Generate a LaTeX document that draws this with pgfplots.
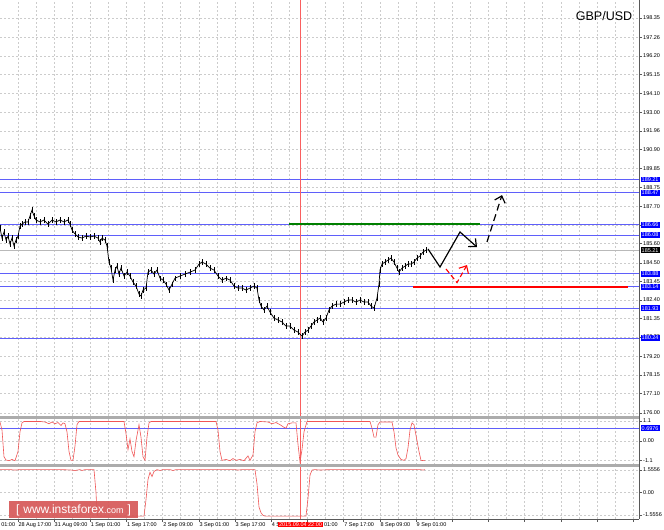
\documentclass[border=0pt]{standalone}
\usepackage{pgfplots}
\pgfplotsset{compat=1.18}
\usepackage{fontspec}
\setmainfont{Liberation Sans}
\usetikzlibrary{arrows.meta}
\definecolor{lvl}{RGB}{95,95,250}
\definecolor{ind}{RGB}{240,85,85}
\definecolor{vred}{RGB}{250,95,95}
\definecolor{wm}{RGB}{214,88,88}
\definecolor{grn}{RGB}{0,128,0}
\newcommand{\mtf}{\fontsize{5.5}{6}\selectfont}
\pgfplotsset{
 mt/.style={
   scale only axis, width=639pt, xmin=0, xmax=639,
   anchor=south west, clip=false,
   axis line style={draw=none},
   ytick pos=right, yticklabel pos=right,
   tick align=outside, major tick length=3pt, minor tick length=0pt,
   tick style={draw=gray!70!black, line width=0.4pt},
   yticklabel style={font=\mtf, inner xsep=1pt, anchor=west, text=black},
   xmajorgrids, xminorgrids, ymajorgrids,
   major grid style={draw=gray!40, dash pattern=on 2pt off 2pt, line width=0.45pt},
   minor grid style={draw=gray!40, dash pattern=on 2pt off 2pt, line width=0.45pt},
   xtick={17.8,54.0,90.2,126.4,162.6,198.8,235.0,271.2,307.4,343.6,379.8,416.0,452.2,488.4,524.6,560.8,597.0,633.2},
   minor xtick={35.9,72.1,108.3,144.5,180.7,216.9,253.1,289.3,325.5,361.7,397.9,434.1,470.3,506.5,542.7,578.9,615.1},
 },
 noxlab/.style={xticklabels={}, xtick style={draw=none}},
}
\begin{document}
\begin{tikzpicture}[x=1pt,y=1pt]
\useasboundingbox (0pt,0pt) rectangle (664pt,530pt);
\fill[white] (0pt,0pt) rectangle (664pt,530pt);

% ---------------- main price pane ----------------
\begin{axis}[mt, noxlab, at={(0pt,114pt)}, height=416pt, ymin=175.83, ymax=199.37,
  ytick={176.00,177.10,178.15,179.20,180.30,181.35,182.40,183.45,184.50,185.60,186.65,187.70,188.75,189.85,190.90,191.96,193.00,194.10,195.15,196.20,197.26,198.35,199.40},
  yticklabels={176.00,177.10,178.15,179.20,180.30,181.35,182.40,183.45,184.50,185.60,186.65,187.70,188.75,189.85,190.90,191.96,193.00,194.10,195.15,196.20,197.26,198.35,199.40}]
% bid line
\addplot[gray!55, line width=0.5pt] coordinates {(0,185.21) (639,185.21)};
% horizontal levels
\foreach \v in {189.21,188.47,186.66,186.08,183.88,183.14,181.93,180.24}{
  \edef\tmp{\noexpand\addplot[lvl, line width=0.7pt] coordinates {(0,\v) (639,\v)};}\tmp
}
% red vertical line
\addplot[vred, line width=0.7pt] coordinates {(300,175.83) (300,199.37)};
% price bars
\addplot[black, line width=0.7pt, error bars/.cd, y dir=both, y fixed=0.15, error mark=none,
  error bar style={line width=0.6pt}] table {
x y
0 186.47
2 185.90
4 186.24
6 185.79
8 186.01
10 185.56
12 185.90
14 185.45
16 185.79
18 186.01
20 186.58
22 186.69
25 186.81
28 186.81
30 187.15
32 187.48
34 187.15
36 186.92
40 186.81
44 186.92
48 186.69
52 186.92
56 186.81
60 186.92
64 186.81
68 186.92
70 186.69
72 186.35
75 186.13
78 185.96
82 185.90
86 186.01
90 185.96
94 186.01
98 185.90
100 185.67
102 185.90
105 185.79
107 185.45
109 184.54
111 184.20
113 183.52
115 184.09
117 184.31
119 183.86
121 184.20
124 183.75
127 183.97
130 183.75
133 183.41
136 183.18
139 182.73
141 182.62
143 182.96
146 183.07
148 183.97
151 184.09
154 183.86
157 184.09
160 183.63
163 183.52
166 183.29
169 182.96
172 183.29
175 183.63
180 183.75
185 183.86
190 183.97
195 184.09
199 184.43
202 184.54
206 184.43
210 184.20
214 184.09
218 183.75
222 183.52
226 183.63
230 183.52
234 183.18
238 183.07
242 183.07
246 182.96
250 183.07
254 183.18
257 183.07
259 182.39
261 182.05
264 181.83
267 182.05
270 181.71
274 181.37
278 181.26
282 181.15
286 180.92
290 180.92
294 180.69
298 180.58
302 180.35
305 180.58
308 180.69
311 180.92
314 181.15
317 181.26
320 181.37
323 181.15
326 181.37
329 181.83
332 182.05
336 182.16
340 182.16
344 182.28
348 182.39
352 182.39
356 182.28
360 182.39
364 182.28
368 182.28
371 182.05
374 181.94
377 182.50
379 183.30
380 184.09
382 184.43
385 184.54
388 184.65
391 184.77
394 184.54
397 184.20
399 183.97
402 184.20
405 184.31
408 184.43
411 184.43
414 184.54
417 184.77
420 184.88
423 185.11
426 185.22
};
% drawn lines
\addplot[grn, line width=1.8pt] coordinates {(289,186.68) (480,186.68)};
\addplot[red, line width=1.6pt] coordinates {(413,183.14) (628,183.14)};
% forecast arrows
\addplot[black, line width=1.2pt, -{Straight Barb[length=6pt,width=11pt]}] coordinates {(428,185.28) (440,184.26) (460,186.24) (477,185.39)};
\addplot[black, line width=1.2pt, dash pattern=on 7pt off 4pt, -{Straight Barb[length=6pt,width=11pt]}] coordinates {(487,185.68) (502,188.33)};
\addplot[red, line width=1.1pt, dash pattern=on 5pt off 3pt, -{Straight Barb[length=6pt,width=11pt]}] coordinates {(446,184.15) (457,183.38) (467,184.37)};
% level boxes
\foreach \v in {189.21,188.47,186.66,186.08,183.88,183.14,181.93,180.24}{
  \edef\tmp{\noexpand\node[anchor=west, fill=blue, text=white, font=\noexpand\mtf, inner xsep=1pt, inner ysep=1pt, xshift=1.5pt] at (axis cs:639,\v) {\v};}\tmp
}
\node[anchor=west, fill=black, text=white, font=\mtf, inner xsep=1pt, inner ysep=1pt, xshift=1.5pt] at (axis cs:639,185.21) {185.21};
\end{axis}

% ---------------- indicator pane 1 ----------------
\begin{axis}[mt, noxlab, at={(0pt,65pt)}, height=48pt, ymin=-1.36, ymax=1.33,
  ytick={-1.1,0,1.1}, yticklabels={-1.1,0.00,1.1}]
\addplot[lvl, line width=0.7pt] coordinates {(0,0.6976) (639,0.6976)};
\addplot[vred, line width=0.7pt] coordinates {(300,-1.36) (300,1.33)};
\addplot[ind, line width=0.6pt] table {
x y
0 1.05
2 0.6
4 -0.9
6 -1.08
9 -1.12
12 -1.05
15 -1.12
18 -0.6
20 0.5
22 1.0
24 1.08
30 1.08
40 1.08
45 1.05
49 0.95
52 1.05
55 0.95
58 1.02
61 0.85
63 1.0
65 0.95
67 0.5
69 -0.6
71 -1.1
73 -1.1
75 -0.3
77 0.9
79 1.08
100 1.08
124 1.08
126 0.4
128 -0.5
130 0.1
132 -0.6
134 -0.9
136 0.0
139 0.9
141 0.2
143 -0.9
145 -1.1
147 0.2
149 1.0
151 1.08
200 1.08
216 1.08
218 0.6
220 -0.6
222 -1.1
226 -1.05
230 -1.12
233 -1.0
236 -1.1
240 -1.05
244 -1.12
248 -0.85
250 -1.1
253 -0.8
255 0.5
257 1.0
260 1.08
268 1.05
272 0.95
276 1.02
280 0.9
284 0.75
286 0.7
288 0.95
292 1.0
296 1.0
298 -0.2
300 -1.2
302 -0.5
304 0.5
307 1.08
370 1.08
372 0.7
374 0.2
376 0.2
378 0.9
380 1.05
392 1.05
394 0.5
396 -0.4
398 -0.8
401 -1.05
404 -1.1
406 -1.0
408 -0.4
410 0.6
412 1.0
414 0.9
416 0.3
419 -0.6
421 -1.1
425 -1.12
};
\node[anchor=west, fill=blue, text=white, font=\mtf, inner xsep=1pt, inner ysep=1pt, xshift=1.5pt] at (axis cs:639,0.6976) {0.6976};
\end{axis}

% ---------------- indicator pane 2 ----------------
\begin{axis}[mt, at={(0pt,11pt)}, height=53pt, ymin=-1.83, ymax=1.83,
  ytick={-1.5556,0,1.5556}, yticklabels={-1.5556,0.00,1.5556},
  xtick pos=bottom,
  xticklabels={28 Aug 17:00,31 Aug 09:00,1 Sep 01:00,1 Sep 17:00,2 Sep 09:00,3 Sep 01:00,3 Sep 17:00,4 S,\phantom{7 Sep }01:00,7 Sep 17:00,8 Sep 09:00,9 Sep 01:00,,,,,,},
  xticklabel style={font=\mtf, anchor=north west, inner xsep=0.5pt, inner ysep=0.5pt, text=black}]
\addplot[vred, line width=0.7pt] coordinates {(300,-1.83) (300,1.83)};
\addplot[ind, line width=0.6pt] table {
x y
0 1.58
10 1.58
15 1.55
20 1.58
40 1.58
60 1.58
70 1.56
75 1.52
80 1.58
82 1.52
85 1.58
94 1.58
96 0.0
97 -1.4
98 -1.63
120 -1.63
144 -1.63
146 -0.5
148 0.9
150 1.4
152 1.1
154 1.45
157 1.58
160 1.52
163 1.58
170 1.58
173 1.52
176 1.58
200 1.58
235 1.58
238 1.55
242 1.58
255 1.58
257 0.6
259 -1.0
261 -1.4
263 -1.58
265 -1.63
280 -1.63
306 -1.63
308 -0.4
310 1.2
312 1.55
315 1.58
320 1.55
330 1.58
380 1.58
420 1.58
423 1.55
425 1.58
};
\end{axis}

% frame and separators
\draw[gray!65, line width=2.5pt] (0pt,112.5pt) -- (639pt,112.5pt);
\draw[gray!65, line width=2.5pt] (0pt,64.5pt) -- (639pt,64.5pt);
\draw[gray!70!black, line width=0.8pt] (639pt,11pt) -- (639pt,530pt);
\draw[gray!70!black, line width=0.8pt] (0pt,11pt) -- (639pt,11pt);
\node[anchor=north west, font=\mtf, inner xsep=0.5pt, inner ysep=0.5pt] at (0.6pt,8pt) {01:00};
% time marker label
\node[fill=red, text=white, font=\mtf, inner xsep=1pt, inner ysep=1pt] at (300.5pt,5.5pt) {2015.09.04 22:00};
% watermark
\fill[wm, opacity=0.92] (9pt,11.5pt) rectangle (138pt,29pt);
\node[text=white, font=\fontsize{12}{12}\selectfont] at (73.5pt,19.5pt) {[\,\,www.instaforex{\fontsize{9}{9}\selectfont.com}\,\,]};
% title
\node[font=\fontsize{12.5}{13}\selectfont] at (604pt,514pt) {GBP/USD};
\end{tikzpicture}
\end{document}
